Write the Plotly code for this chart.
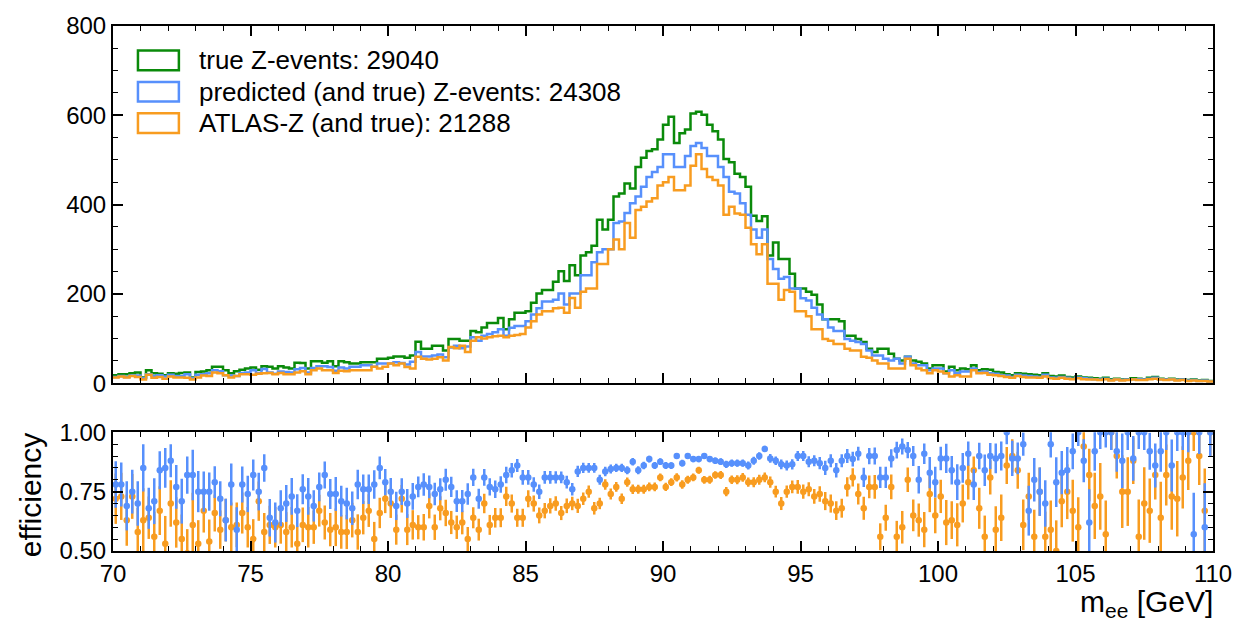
import numpy as np
import plotly.graph_objects as go

# ---------------- data ----------------
bin_lo, bin_hi, n_bins = 70.0, 110.0, 200
x_ticks = [70, 75, 80, 85, 90, 95, 100, 105, 110]

true_counts = [
    18, 20, 20, 22, 24, 13, 29, 22, 21, 18,
    22, 21, 23, 24, 13, 25, 26, 29, 37, 37,
    29, 22, 27, 30, 33, 35, 30, 38, 37, 33,
    38, 35, 33, 46, 45, 33, 49, 49, 46, 49,
    38, 49, 47, 44, 44, 47, 47, 47, 55, 55,
    57, 60, 60, 57, 62, 93, 77, 77, 84, 84,
    73, 99, 99, 95, 95, 117, 114, 125, 135, 135,
    146, 121, 143, 158, 158, 161, 180, 201, 209, 209,
    227, 251, 229, 264, 242, 286, 293, 308, 366, 344,
    366, 418, 425, 447, 436, 484, 505, 520, 524, 546,
    579, 597, 538, 560, 568, 604, 608, 601, 579, 564,
    546, 502, 495, 469, 462, 440, 375, 363, 374, 286,
    315, 278, 278, 245, 212, 212, 205, 198, 176, 143,
    143, 143, 139, 106, 106, 99, 92, 77, 70, 77,
    77, 66, 55, 51, 59, 51, 48, 44, 33, 40,
    40, 26, 37, 29, 33, 31,
    40, 29, 31, 30, 25, 24, 20, 18, 22, 21, 20, 19, 18, 22, 16, 15, 17, 14, 13, 15,
    13, 12, 11, 10, 12, 9, 10, 8, 9, 11, 10, 9, 12, 14, 10, 9, 10, 8, 9, 7, 8, 6, 7, 5,
]

pred_counts = [
    14, 16, 14, 17, 17, 11, 20, 16, 18, 15,
    19, 16, 16, 20, 11, 19, 20, 22, 29, 27,
    18, 17, 16, 23, 24, 29, 23, 32, 24, 21,
    26, 25, 24, 31, 34, 24, 34, 38, 38, 36,
    28, 35, 33, 37, 37, 40, 40, 37, 44, 44,
    44, 47, 45, 42, 48, 70, 60, 60, 62, 64,
    58, 80, 84, 78, 82, 103, 95, 106, 110, 114,
    121, 106, 124, 128, 128, 139, 154, 168, 183, 183,
    187, 201, 176, 201, 201, 242, 242, 271, 293, 300,
    300, 359, 362, 381, 403, 418, 440, 462, 473, 484,
    513, 513, 484, 484, 509, 531, 538, 527, 509, 509,
    484, 462, 429, 425, 403, 377, 344, 326, 344, 278,
    256, 234, 238, 212, 212, 190, 185, 169, 154, 143,
    125, 117, 117, 99, 95, 92, 88, 73, 62, 62,
    55, 51, 55, 44, 59, 44, 40, 40, 29, 33,
    33, 22, 29, 22, 26, 26,
    33, 25, 26, 22, 21, 18, 17, 14, 19, 17, 16, 15, 14, 19, 13, 12, 14, 12, 10, 13,
    11, 10, 9, 8, 10, 7, 9, 7, 8, 9, 9, 8, 10, 12, 9, 8, 9, 7, 8, 6, 7, 5, 6, 4,
]

atlas_counts = [
    13, 15, 13, 16, 14, 8, 19, 12, 14, 10,
    15, 13, 13, 12, 8, 13, 17, 16, 24, 22,
    18, 13, 16, 20, 20, 19, 21, 22, 23, 20,
    23, 20, 20, 24, 27, 20, 29, 33, 29, 29,
    23, 28, 27, 29, 29, 29, 29, 37, 33, 37,
    44, 40, 44, 36, 33, 59, 55, 53, 55, 58,
    51, 81, 78, 84, 70, 95, 103, 100, 103, 105,
    106, 103, 106, 108, 110, 125, 139, 154, 161, 161,
    168, 169, 158, 191, 169, 205, 212, 212, 267, 267,
    300, 322, 300, 359, 326, 388, 395, 407, 414, 443,
    450, 462, 432, 432, 443, 487, 513, 480, 462, 455,
    443, 377, 395, 380, 377, 348, 311, 289, 311, 223,
    223, 187, 209, 205, 161, 161, 150, 121, 121, 99,
    95, 88, 88, 77, 73, 73, 59, 57, 51, 44,
    44, 33, 33, 33, 55, 40, 33, 29, 22, 29,
    26, 22, 15, 18, 15, 15,
    29, 22, 23, 19, 18, 16, 14, 12, 16, 14, 13, 13, 12, 15, 11, 10, 12, 10, 9, 11,
    9, 8, 8, 7, 9, 6, 8, 6, 7, 8, 7, 7, 9, 10, 8, 7, 8, 6, 7, 5, 6, 5, 5, 4,
]

eff_pred = [
    0.78, 0.78, 0.69, 0.75, 0.70, 0.85, 0.68, 0.71, 0.84, 0.85,
    0.88, 0.77, 0.71, 0.82, 0.82, 0.75, 0.75, 0.75, 0.79, 0.72,
    0.63, 0.78, 0.59, 0.78, 0.74, 0.82, 0.75, 0.85, 0.64, 0.62,
    0.68, 0.70, 0.73, 0.67, 0.76, 0.73, 0.69, 0.77, 0.82, 0.74,
    0.74, 0.71, 0.70, 0.68, 0.78, 0.76, 0.76, 0.78, 0.85, 0.79,
    0.75, 0.69, 0.75, 0.70, 0.73, 0.77, 0.78, 0.77, 0.74, 0.76,
    0.80, 0.77, 0.71, 0.71, 0.74, 0.81, 0.72, 0.81, 0.77, 0.76,
    0.78, 0.82, 0.84, 0.86, 0.81, 0.81, 0.78, 0.75, 0.81, 0.81,
    0.81, 0.81, 0.79, 0.76, 0.835, 0.85, 0.85, 0.85, 0.80, 0.835,
    0.845, 0.85, 0.85, 0.84, 0.876, 0.84, 0.86, 0.887, 0.86, 0.876,
    0.86, 0.86, 0.90, 0.87, 0.90, 0.887, 0.887, 0.90, 0.887, 0.88,
    0.876, 0.865, 0.87, 0.87, 0.87, 0.86, 0.88, 0.90, 0.93, 0.89,
    0.88, 0.865, 0.86, 0.865, 0.90, 0.90, 0.876, 0.88, 0.87, 0.85,
    0.88, 0.84, 0.88, 0.90, 0.887, 0.91, 0.81, 0.90, 0.90, 0.81,
    0.81, 0.89, 0.925, 0.94, 0.925, 0.90, 0.80, 0.91, 0.83, 0.79,
    0.89, 0.89, 0.84, 0.79, 0.85, 0.91, 0.78, 0.90, 0.84, 0.90,
    0.89, 0.90, 1.00, 0.89, 0.89, 0.95, 0.67, 0.80, 0.75, 0.70,
    0.95, 0.79, 0.83, 0.84, 0.92, 1.00, 0.88, 0.62, 0.92, 1.00,
    1.00, 1.00, 0.92, 0.88, 1.00, 0.89, 1.00, 1.00, 0.92, 0.86,
    0.92, 1.00, 0.86, 1.00, 1.00, 1.00, 0.57, 1.00, 0.60, 1.00,
]

eff_atlas = [
    0.72, 0.73, 0.63, 0.73, 0.58, 0.63, 0.64, 0.56, 0.67, 0.53,
    0.70, 0.62, 0.55, 0.49, 0.61, 0.53, 0.67, 0.54, 0.66, 0.59,
    0.63, 0.60, 0.61, 0.66, 0.60, 0.55, 0.71, 0.58, 0.61, 0.60,
    0.61, 0.58, 0.60, 0.53, 0.61, 0.60, 0.60, 0.67, 0.62, 0.59,
    0.60, 0.58, 0.58, 0.63, 0.58, 0.64, 0.67, 0.55, 0.66, 0.72,
    0.70, 0.59, 0.72, 0.59, 0.61, 0.60, 0.60, 0.69, 0.60, 0.68,
    0.66, 0.62, 0.60, 0.62, 0.55, 0.64, 0.59, 0.70, 0.61, 0.64,
    0.64, 0.73, 0.70, 0.64, 0.64, 0.72, 0.70, 0.65, 0.67, 0.69,
    0.70, 0.66, 0.69, 0.70, 0.69, 0.72, 0.75, 0.68, 0.70, 0.78,
    0.74, 0.77, 0.72, 0.79, 0.76, 0.76, 0.76, 0.77, 0.77, 0.81,
    0.77, 0.79, 0.81, 0.78, 0.80, 0.81, 0.84, 0.80, 0.80, 0.82,
    0.82, 0.75, 0.80, 0.80, 0.81, 0.79, 0.79, 0.80, 0.81, 0.79,
    0.75, 0.70, 0.75, 0.77, 0.77, 0.75, 0.76, 0.73, 0.74, 0.71,
    0.70, 0.67, 0.68, 0.77, 0.81, 0.74, 0.68, 0.77, 0.77, 0.56,
    0.64, 0.77, 0.56, 0.60, 0.80, 0.65, 0.63, 0.59, 0.74, 0.65,
    0.73, 0.62, 0.63, 0.61, 0.70, 0.79, 0.84, 0.68, 0.56, 0.81,
    0.59, 0.64, 0.86, 0.90, 0.84, 0.61, 0.73, 0.56, 0.75, 0.56,
    0.59, 0.50, 0.71, 0.75, 0.67, 0.60, 0.94, 0.82, 0.69, 0.73,
    0.57, 1.00, 0.90, 0.75, 0.75, 0.88, 0.56, 0.70, 0.67, 0.82,
    0.64, 0.82, 0.73, 0.72, 0.81, 0.88, 1.00, 0.90, 0.67, 1.00,
]

legend_labels = [
    "true Z-events: 29040",
    "predicted (and true) Z-events: 24308",
    "ATLAS-Z (and true): 21288",
]

# ---------------- styling ----------------
GREEN = "#0a8a0a"
BLUE = "#5790fc"
ORANGE = "#f89c20"
FONT = "Liberation Sans, Arial, Helvetica, sans-serif"

edges = np.linspace(bin_lo, bin_hi, n_bins + 1)
centers = 0.5 * (edges[:-1] + edges[1:])

fig = go.Figure()


def step_trace(counts, color, yaxis="y"):
    xs = list(edges)
    ys = list(counts) + [counts[-1]]
    return go.Scatter(x=xs, y=ys, mode="lines", line=dict(shape="hv", color=color, width=2.5),
                      xaxis="x", yaxis=yaxis, showlegend=False, hoverinfo="skip")


fig.add_trace(step_trace(true_counts, GREEN))
fig.add_trace(step_trace(pred_counts, BLUE))
fig.add_trace(step_trace(atlas_counts, ORANGE))

true_arr = np.array(true_counts, dtype=float)


def eff_err(eff):
    e = np.array(eff)
    return np.sqrt(np.maximum(e * (1 - e), 0.05) / true_arr)


for eff, color in [(eff_atlas, ORANGE), (eff_pred, BLUE)]:
    fig.add_trace(go.Scatter(
        x=centers, y=eff, mode="markers",
        marker=dict(color=color, size=6.5, line=dict(width=0)),
        error_y=dict(type="data", array=eff_err(eff), color=color, thickness=2.5, width=0),
        xaxis="x2", yaxis="y2", showlegend=False, cliponaxis=True,
    ))

# layout geometry (pixels -> paper)
W, H = 1244, 629
ml, mr, mt, mb = 113, 29, 16, 78
ph = H - mt - mb
top_lo = (551 - 380) / ph
bot_hi = (551 - 430) / ph

TICKFONT = dict(family=FONT, size=24, color="black")
axis_common = dict(
    showline=True, linecolor="black", linewidth=2, mirror="ticks",
    ticks="inside", ticklen=10, tickwidth=1.5, tickcolor="black",
    showgrid=False, zeroline=False,
    tickfont=TICKFONT,
)
MINOR = dict(ticks="inside", ticklen=5, tickwidth=1.2, tickcolor="black")

fig.update_layout(
    width=W, height=H,
    margin=dict(l=ml, r=mr, t=mt, b=mb),
    paper_bgcolor="white", plot_bgcolor="white",
    font=dict(family=FONT, color="black"),
    xaxis=dict(domain=[0, 1], range=[bin_lo, bin_hi], anchor="y", tickvals=x_ticks,
               showticklabels=False, minor=dict(dtick=1, **MINOR), **axis_common),
    yaxis=dict(domain=[top_lo, 1], range=[0, 800], anchor="x", dtick=200,
               minor=dict(dtick=50, **MINOR), **axis_common),
    xaxis2=dict(domain=[0, 1], range=[bin_lo, bin_hi], anchor="y2", tickvals=x_ticks,
                minor=dict(dtick=1, **MINOR), **axis_common),
    yaxis2=dict(domain=[0, bot_hi], range=[0.5, 1.0], anchor="x2",
                tickvals=[0.5, 0.75, 1.0], ticktext=["0.50", "0.75", "1.00"],
                minor=dict(dtick=0.05, **MINOR), **axis_common),
)

# manual legend with outlined boxes
pw = W - ml - mr


def px2paper(x, y):
    return (x - ml) / pw, (H - mb - y) / ph


row_y = [51, 83, 115]
for label, color, yc in zip(legend_labels, [GREEN, BLUE, ORANGE], row_y):
    x0, y0 = px2paper(138, yc + 10)
    x1, y1 = px2paper(179, yc - 10)
    fig.add_shape(type="rect", xref="paper", yref="paper", x0=x0, x1=x1, y0=y0, y1=y1,
                  line=dict(color=color, width=2.5), fillcolor="rgba(0,0,0,0)")
    tx, ty = px2paper(197, yc)
    fig.add_annotation(x=tx, y=ty, xref="paper", yref="paper", text=label, showarrow=False,
                       xanchor="left", yanchor="middle",
                       font=dict(family=FONT, size=26, color="black"))

# axis labels
lx, ly = px2paper(1217, 605)
fig.add_annotation(x=lx, y=ly, xref="paper", yref="paper", text="m<sub>ee</sub> [GeV]",
                   showarrow=False, xanchor="right", yanchor="middle",
                   font=dict(family=FONT, size=30, color="black"))
ex, ey = px2paper(30, 494)
fig.add_annotation(x=ex, y=ey, xref="paper", yref="paper", text="efficiency", textangle=-90,
                   showarrow=False, xanchor="center", yanchor="middle",
                   font=dict(family=FONT, size=30, color="black"))

fig.write_html("out.html")
